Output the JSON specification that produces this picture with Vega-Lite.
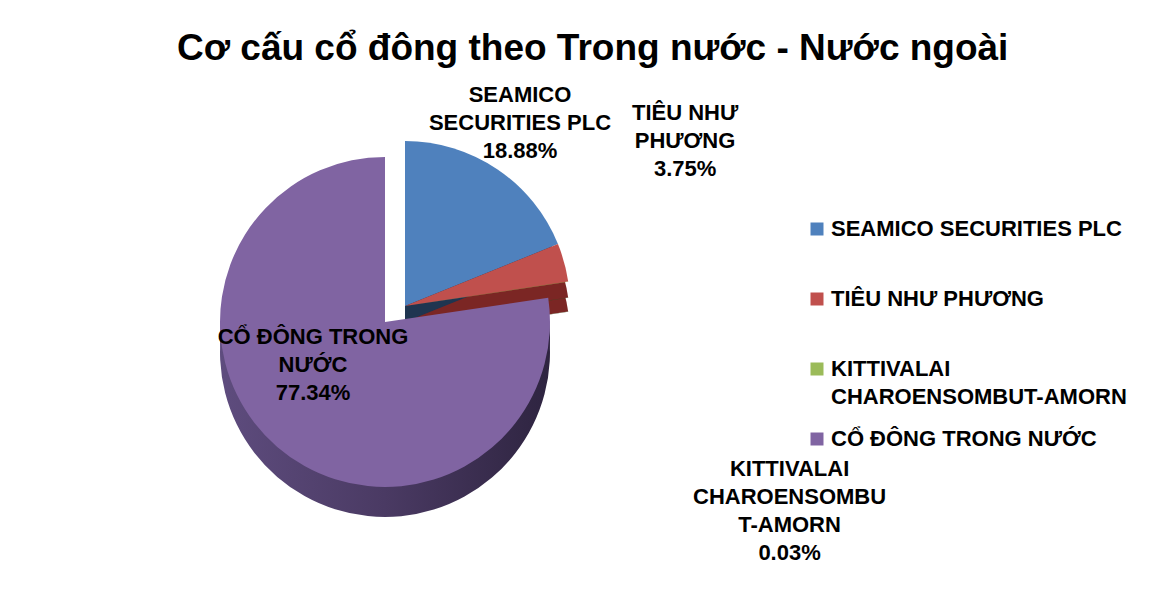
{
  "$schema": "https://vega.github.io/schema/vega-lite/v6.json",
  "width": 754,
  "height": 444,
  "autosize": {"type": "none"},
  "padding": {"left": 8, "top": 100, "right": 414, "bottom": 71},
  "background": "white",
  "config": {"view": {"stroke": null}},
  "title": {
    "text": "Cơ cấu cổ đông theo Trong nước - Nước ngoài",
    "anchor": "start",
    "dx": 169,
    "offset": 0,
    "dy": 13,
    "baseline": "alphabetic",
    "font": "Liberation Sans",
    "fontSize": 37,
    "fontWeight": "bold",
    "color": "black"
  },
  "data": {
    "values": [
      {"name": "SEAMICO SECURITIES PLC", "value": 18.88, "order": 1, "label": "SEAMICO\nSECURITIES PLC\n18.88%"},
      {"name": "TIÊU NHƯ PHƯƠNG", "value": 3.75, "order": 2, "label": "TIÊU NHƯ\nPHƯƠNG\n3.75%"},
      {"name": "KITTIVALAI CHAROENSOMBUT-AMORN", "value": 0.03, "order": 3, "label": "KITTIVALAI\nCHAROENSOMBU\nT-AMORN\n0.03%"},
      {"name": "CỔ ĐÔNG TRONG NƯỚC", "value": 77.34, "order": 4, "label": "CỔ ĐÔNG TRONG\nNƯỚC\n77.34%"}
    ]
  },
  "transform": [
    {"stack": "value", "groupby": [], "sort": [{"field": "order"}], "as": ["t0", "t1"]}
  ],
  "layer": [
    {
      "transform": [{"filter": "datum.order < 4"}],
      "mark": {"type": "arc", "outerRadius": 165, "xOffset": 20, "yOffset": 14},
      "encoding": {
        "theta": {"field": "t0", "type": "quantitative", "scale": {"domain": [0, 100]}},
        "theta2": {"field": "t1"},
        "fill": {"field": "name", "type": "nominal", "legend": null,
          "scale": {"range": ["#3F4C24", "#1F3550", "#7B2624"]}}
      }
    },
    {
      "transform": [{"filter": "datum.order < 4"}],
      "mark": {"type": "arc", "outerRadius": 165, "xOffset": 20, "yOffset": 0},
      "encoding": {
        "theta": {"field": "t0", "type": "quantitative", "scale": {"domain": [0, 100]}},
        "theta2": {"field": "t1"},
        "fill": {"field": "name", "type": "nominal", "legend": null}
      }
    },
    {
      "transform": [{"filter": "datum.order < 4"}],
      "mark": {"type": "arc", "outerRadius": 165, "xOffset": 20, "yOffset": -16},
      "encoding": {
        "theta": {"field": "t0", "type": "quantitative", "scale": {"domain": [0, 100]}},
        "theta2": {"field": "t1"},
        "color": {"field": "name", "type": "nominal",
          "scale": {"domain": ["SEAMICO SECURITIES PLC", "TIÊU NHƯ PHƯƠNG", "KITTIVALAI CHAROENSOMBUT-AMORN", "CỔ ĐÔNG TRONG NƯỚC"],
                    "range": ["#4F81BD", "#C0504D", "#9BBB59", "#8064A2"]},
          "legend": {
            "orient": "none", "legendX": 798, "legendY": 118, "title": null,
            "symbolType": "square", "symbolSize": 169, "symbolStrokeWidth": 0, "symbolOpacity": 1,
            "labelFont": "Liberation Sans", "labelFontSize": 22, "labelFontWeight": "bold", "labelColor": "black",
            "labelOffset": 3, "labelLimit": 400, "rowPadding": 20, "gridAlign": "all", "padding": 0,
            "labelExpr": "datum.label == 'KITTIVALAI CHAROENSOMBUT-AMORN' ? ['KITTIVALAI', 'CHAROENSOMBUT-AMORN'] : datum.label",
            "encode": {"labels": {"update": {"lineHeight": {"value": 28}}}}
          }}
      }
    },
    {
      "transform": [{"filter": "datum.order == 4"}],
      "mark": {"type": "arc", "outerRadius": 165, "yOffset": 30,
        "fill": {"gradient": "linear", "x1": 0, "y1": 0, "x2": 1, "y2": 0,
          "stops": [{"offset": 0, "color": "#5E4C7E"}, {"offset": 0.5, "color": "#4A3A63"}, {"offset": 1, "color": "#2E2440"}]}},
      "encoding": {
        "theta": {"field": "t0", "type": "quantitative", "scale": {"domain": [0, 100]}},
        "theta2": {"field": "t1"}
      }
    },
    {
      "transform": [{"filter": "datum.order == 4"}],
      "mark": {"type": "arc", "outerRadius": 165, "yOffset": 15,
        "fill": {"gradient": "linear", "x1": 0, "y1": 0, "x2": 1, "y2": 0,
          "stops": [{"offset": 0, "color": "#5E4C7E"}, {"offset": 0.5, "color": "#4A3A63"}, {"offset": 1, "color": "#2E2440"}]}},
      "encoding": {
        "theta": {"field": "t0", "type": "quantitative", "scale": {"domain": [0, 100]}},
        "theta2": {"field": "t1"}
      }
    },
    {
      "transform": [{"filter": "datum.order == 4"}],
      "mark": {"type": "arc", "outerRadius": 165},
      "encoding": {
        "theta": {"field": "t0", "type": "quantitative", "scale": {"domain": [0, 100]}},
        "theta2": {"field": "t1"},
        "color": {"field": "name", "type": "nominal"}
      }
    },
    {
      "transform": [{"filter": "datum.order == 1"}],
      "mark": {"type": "text", "radius": 227, "dx": 135, "font": "Liberation Sans", "fontSize": 22, "fontWeight": "bold", "lineBreak": "\n", "lineHeight": 28, "color": "black"},
      "encoding": {
        "theta": {"field": "t0", "type": "quantitative", "scale": {"domain": [0, 100]}},
        "text": {"field": "label", "type": "nominal"}
      }
    },
    {
      "transform": [{"filter": "datum.order == 2"}],
      "mark": {"type": "text", "radius": 300, "dx": 22, "dy": -96, "font": "Liberation Sans", "fontSize": 22, "fontWeight": "bold", "lineBreak": "\n", "lineHeight": 28, "color": "black"},
      "encoding": {
        "theta": {"field": "t0", "type": "quantitative", "scale": {"domain": [0, 100]}},
        "text": {"field": "label", "type": "nominal"}
      }
    },
    {
      "transform": [{"filter": "datum.order == 3"}],
      "mark": {"type": "text", "radius": 400, "dx": 9, "dy": 206, "font": "Liberation Sans", "fontSize": 22, "fontWeight": "bold", "lineBreak": "\n", "lineHeight": 28, "color": "black"},
      "encoding": {
        "theta": {"field": "t0", "type": "quantitative", "scale": {"domain": [0, 100]}},
        "text": {"field": "label", "type": "nominal"}
      }
    },
    {
      "transform": [{"filter": "datum.order == 4"}],
      "mark": {"type": "text", "radius": 0, "dx": -72, "dy": 15, "font": "Liberation Sans", "fontSize": 22, "fontWeight": "bold", "lineBreak": "\n", "lineHeight": 28, "color": "black"},
      "encoding": {
        "theta": {"field": "t0", "type": "quantitative", "scale": {"domain": [0, 100]}},
        "text": {"field": "label", "type": "nominal"}
      }
    }
  ]
}
